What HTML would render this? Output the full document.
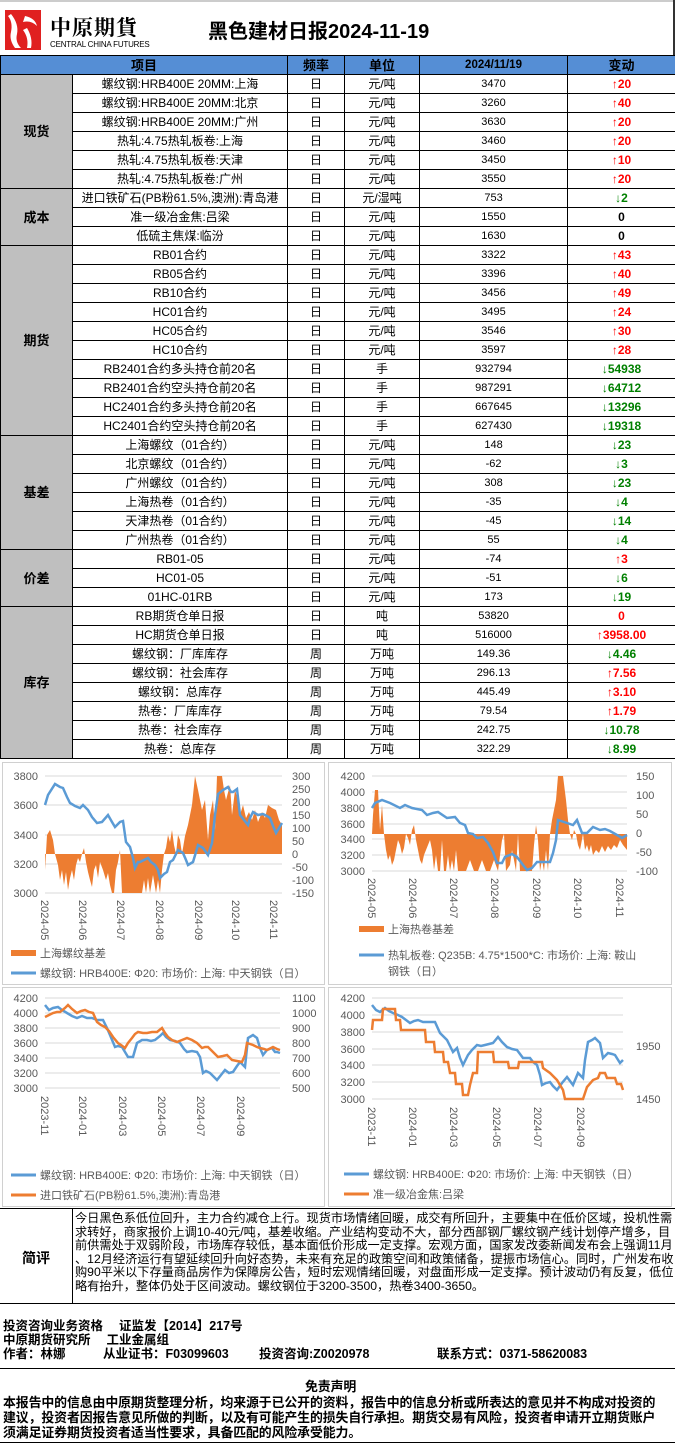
<!DOCTYPE html>
<html><head><meta charset="utf-8">
<style>
*{margin:0;padding:0;box-sizing:border-box}
body{width:675px;height:1445px;position:relative;background:#fff;font-family:"Liberation Sans","Noto Sans CJK SC",sans-serif;overflow:hidden}
.abs{position:absolute}
table{position:absolute;left:0;top:55px;width:675px;border-collapse:collapse;table-layout:fixed}
td{border:1px solid #000;height:19px;text-align:center;font-size:12px;white-space:nowrap;overflow:hidden;line-height:17px;padding:0}
th{border:1px solid #000;height:19px;background:#558ed5;font-size:13px;font-weight:bold;line-height:17px}
td.cat{background:#bfbfbf;font-weight:bold;font-size:13px}
td.v{font-size:11px}
.u{color:#ff0000;font-weight:bold;font-size:12px}
.d{color:#008000;font-weight:bold;font-size:12px}
.z{font-weight:bold;font-size:12px}
.panel{position:absolute;border:1px solid #d0d0d0;background:#fff}
.cm{position:absolute;left:75px;top:1212px;font-size:12.2px;line-height:13.6px;white-space:nowrap}
.info{position:absolute;font-size:12.5px;font-weight:bold;white-space:nowrap}
.disc{position:absolute;left:3px;font-size:12.9px;font-weight:bold;white-space:nowrap;letter-spacing:-0.1px}
</style></head><body>
<div class="abs" style="left:0;top:0;width:675px;height:2px;background:#ccc"></div>
<div class="abs" style="left:673px;top:0;width:2px;height:55px;background:#333"></div>
<svg class="abs" style="left:5px;top:10px" width="36" height="40" viewBox="0 0 36 40"><rect width="36" height="40" fill="#e02020"/><path d="M6 4 Q14 14 12 24 Q10 32 16 38 L10 38 Q4 30 6 22 Q8 12 3 6Z" fill="#fff"/><path d="M20 6 Q30 8 32 16 Q26 10 18 12Z" fill="#fff"/><path d="M18 20 Q24 28 22 38 L26 38 Q28 28 22 18Z" fill="#fff"/></svg>
<div class="abs" style="left:50px;top:12px;font-size:21px;font-weight:bold;letter-spacing:1px;font-family:'Noto Serif CJK SC',serif">中原期貨</div>
<div class="abs" style="left:50px;top:40px;font-size:8px;letter-spacing:-0.2px">CENTRAL CHINA FUTURES</div>
<div class="abs" style="left:208px;top:15px;font-size:20px;font-weight:bold">黑色建材日报2024-11-19</div>

<table>
<colgroup><col style="width:72px"><col style="width:215px"><col style="width:57px"><col style="width:75px"><col style="width:148px"><col style="width:108px"></colgroup>
<tr><th colspan="2">项目</th><th>频率</th><th>单位</th><th style="font-size:11.5px">2024/11/19</th><th>变动</th></tr>
<tr><td class="cat" rowspan="6">现货</td><td>螺纹钢:HRB400E 20MM:上海</td><td>日</td><td>元/吨</td><td class="v">3470</td><td class="u">↑20</td></tr>
<tr><td>螺纹钢:HRB400E 20MM:北京</td><td>日</td><td>元/吨</td><td class="v">3260</td><td class="u">↑40</td></tr>
<tr><td>螺纹钢:HRB400E 20MM:广州</td><td>日</td><td>元/吨</td><td class="v">3630</td><td class="u">↑20</td></tr>
<tr><td>热轧:4.75热轧板卷:上海</td><td>日</td><td>元/吨</td><td class="v">3460</td><td class="u">↑20</td></tr>
<tr><td>热轧:4.75热轧板卷:天津</td><td>日</td><td>元/吨</td><td class="v">3450</td><td class="u">↑10</td></tr>
<tr><td>热轧:4.75热轧板卷:广州</td><td>日</td><td>元/吨</td><td class="v">3550</td><td class="u">↑20</td></tr>
<tr><td class="cat" rowspan="3">成本</td><td>进口铁矿石(PB粉61.5%,澳洲):青岛港</td><td>日</td><td>元/湿吨</td><td class="v">753</td><td class="d">↓2</td></tr>
<tr><td>准一级冶金焦:吕梁</td><td>日</td><td>元/吨</td><td class="v">1550</td><td class="z">0</td></tr>
<tr><td>低硫主焦煤:临汾</td><td>日</td><td>元/吨</td><td class="v">1630</td><td class="z">0</td></tr>
<tr><td class="cat" rowspan="10">期货</td><td>RB01合约</td><td>日</td><td>元/吨</td><td class="v">3322</td><td class="u">↑43</td></tr>
<tr><td>RB05合约</td><td>日</td><td>元/吨</td><td class="v">3396</td><td class="u">↑40</td></tr>
<tr><td>RB10合约</td><td>日</td><td>元/吨</td><td class="v">3456</td><td class="u">↑49</td></tr>
<tr><td>HC01合约</td><td>日</td><td>元/吨</td><td class="v">3495</td><td class="u">↑24</td></tr>
<tr><td>HC05合约</td><td>日</td><td>元/吨</td><td class="v">3546</td><td class="u">↑30</td></tr>
<tr><td>HC10合约</td><td>日</td><td>元/吨</td><td class="v">3597</td><td class="u">↑28</td></tr>
<tr><td>RB2401合约多头持仓前20名</td><td>日</td><td>手</td><td class="v">932794</td><td class="d">↓54938</td></tr>
<tr><td>RB2401合约空头持仓前20名</td><td>日</td><td>手</td><td class="v">987291</td><td class="d">↓64712</td></tr>
<tr><td>HC2401合约多头持仓前20名</td><td>日</td><td>手</td><td class="v">667645</td><td class="d">↓13296</td></tr>
<tr><td>HC2401合约空头持仓前20名</td><td>日</td><td>手</td><td class="v">627430</td><td class="d">↓19318</td></tr>
<tr><td class="cat" rowspan="6">基差</td><td>上海螺纹（01合约）</td><td>日</td><td>元/吨</td><td class="v">148</td><td class="d">↓23</td></tr>
<tr><td>北京螺纹（01合约）</td><td>日</td><td>元/吨</td><td class="v">-62</td><td class="d">↓3</td></tr>
<tr><td>广州螺纹（01合约）</td><td>日</td><td>元/吨</td><td class="v">308</td><td class="d">↓23</td></tr>
<tr><td>上海热卷（01合约）</td><td>日</td><td>元/吨</td><td class="v">-35</td><td class="d">↓4</td></tr>
<tr><td>天津热卷（01合约）</td><td>日</td><td>元/吨</td><td class="v">-45</td><td class="d">↓14</td></tr>
<tr><td>广州热卷（01合约）</td><td>日</td><td>元/吨</td><td class="v">55</td><td class="d">↓4</td></tr>
<tr><td class="cat" rowspan="3">价差</td><td>RB01-05</td><td>日</td><td>元/吨</td><td class="v">-74</td><td class="u">↑3</td></tr>
<tr><td>HC01-05</td><td>日</td><td>元/吨</td><td class="v">-51</td><td class="d">↓6</td></tr>
<tr><td>01HC-01RB</td><td>日</td><td>元/吨</td><td class="v">173</td><td class="d">↓19</td></tr>
<tr><td class="cat" rowspan="8">库存</td><td>RB期货仓单日报</td><td>日</td><td>吨</td><td class="v">53820</td><td class="u">0</td></tr>
<tr><td>HC期货仓单日报</td><td>日</td><td>吨</td><td class="v">516000</td><td class="u">↑3958.00</td></tr>
<tr><td>螺纹钢：厂库库存</td><td>周</td><td>万吨</td><td class="v">149.36</td><td class="d">↓4.46</td></tr>
<tr><td>螺纹钢：社会库存</td><td>周</td><td>万吨</td><td class="v">296.13</td><td class="u">↑7.56</td></tr>
<tr><td>螺纹钢：总库存</td><td>周</td><td>万吨</td><td class="v">445.49</td><td class="u">↑3.10</td></tr>
<tr><td>热卷：厂库库存</td><td>周</td><td>万吨</td><td class="v">79.54</td><td class="u">↑1.79</td></tr>
<tr><td>热卷：社会库存</td><td>周</td><td>万吨</td><td class="v">242.75</td><td class="d">↓10.78</td></tr>
<tr><td>热卷：总库存</td><td>周</td><td>万吨</td><td class="v">322.29</td><td class="d">↓8.99</td></tr>
</table>

<div class="panel" style="left:2px;top:762px;width:323px;height:223px"></div>
<div class="panel" style="left:328px;top:762px;width:344px;height:223px"></div>
<div class="panel" style="left:2px;top:987px;width:323px;height:220px"></div>
<div class="panel" style="left:328px;top:987px;width:344px;height:220px"></div>

<svg class="abs" style="left:0;top:0" width="675" height="1445" font-family="Liberation Sans, Noto Sans CJK SC, sans-serif" font-size="11" fill="#595959">
<g stroke="#d9d9d9" stroke-width="1"><line x1="45" x2="282" y1="776" y2="776"/><line x1="45" x2="282" y1="805" y2="805"/><line x1="45" x2="282" y1="835" y2="835"/><line x1="45" x2="282" y1="864" y2="864"/><line x1="45" x2="282" y1="893" y2="893"/></g>
<polygon fill="#ed7d31" points="45,854 45,870 47,835 50,830 53,840 55,854 58,865 60,880 62,870 64,885 66,872 68,890 70,878 72,870 74,880 76,865 78,858 80,862 82,854 84,848 86,862 88,872 90,880 92,887 94,870 96,865 98,878 100,862 103,870 106,880 108,873 110,885 112,893 114,893 116,870 118,862 120,850 122,893 142,893 144,880 146,893 148,878 150,893 153,875 156,893 158,880 160,893 162,870 164,854 166,848 168,835 170,842 172,830 174,845 176,854 178,835 180,840 182,854 185,836 188,825 192,805 195,776 198,790 202,810 205,800 208,840 210,815 213,800 215,830 217,776 222,776 224,790 226,800 230,785 232,815 235,790 238,800 240,815 243,805 246,818 249,812 252,820 255,810 258,822 262,812 265,818 268,805 272,808 276,810 279,820 282,825 282,854"/>
<polyline fill="none" stroke="#5b9bd5" stroke-width="2.5" points="45,805 48,795 55,784 60,787 63,788 67,797 70,803 75,806 80,808 83,805 88,810 92,817 97,823 102,822 108,815 112,822 115,827 120,822 123,821 126,842 130,847 133,858 135,868 138,862 140,862 144,860 148,858 151,862 155,865 158,870 160,878 164,874 167,872 170,862 173,860 178,850 183,853 186,860 188,865 193,862 196,852 198,845 203,848 208,855 212,843 215,815 218,794 223,790 228,787 231,792 233,792 237,789 240,815 244,820 248,825 250,818 253,812 258,815 263,814 267,816 270,818 273,826 276,833 279,828 282,823"/>
<g text-anchor="end"><text x="38" y="780">3800</text><text x="38" y="809">3600</text><text x="38" y="839">3400</text><text x="38" y="868">3200</text><text x="38" y="897">3000</text></g>
<g text-anchor="start"><text x="292" y="780">300</text><text x="292" y="793">250</text><text x="292" y="806">200</text><text x="292" y="819">150</text><text x="292" y="832">100</text><text x="292" y="845">50</text><text x="292" y="858">0</text><text x="292" y="871">-50</text><text x="292" y="884">-100</text><text x="292" y="897">-150</text></g>
<g><text transform="translate(41,900) rotate(90)">2024-05</text><text transform="translate(79,900) rotate(90)">2024-06</text><text transform="translate(117,900) rotate(90)">2024-07</text><text transform="translate(156,900) rotate(90)">2024-08</text><text transform="translate(195,900) rotate(90)">2024-09</text><text transform="translate(232,900) rotate(90)">2024-10</text><text transform="translate(270,900) rotate(90)">2024-11</text></g>
<rect x="11" y="950" width="25" height="6" fill="#ed7d31"/><text x="40" y="957">上海螺纹基差</text>
<line x1="11" x2="36" y1="973" y2="973" stroke="#5b9bd5" stroke-width="3"/><text x="40" y="977">螺纹钢:  HRB400E:  Φ20:  市场价:  上海:  中天钢铁（日）</text>

<g stroke="#d9d9d9"><line x1="372" x2="627" y1="776" y2="776"/><line x1="372" x2="627" y1="792" y2="792"/><line x1="372" x2="627" y1="808" y2="808"/><line x1="372" x2="627" y1="824" y2="824"/><line x1="372" x2="627" y1="839" y2="839"/><line x1="372" x2="627" y1="855" y2="855"/><line x1="372" x2="627" y1="871" y2="871"/></g>
<polygon fill="#ed7d31" points="372,834 373,815 375,790 378,790 380,830 382,805 384,834 386,850 388,860 390,855 392,865 394,860 396,850 398,840 400,845 402,854 404,848 406,834 408,838 410,845 412,830 414,825 416,840 418,850 420,860 422,864 424,855 426,850 428,845 430,840 432,850 434,870 436,855 438,871 440,871 442,840 444,871 446,871 448,855 450,871 452,860 454,871 456,850 458,871 466,871 470,860 474,871 478,871 482,860 486,871 490,871 494,860 498,871 502,840 504,834 506,871 510,865 512,850 514,860 516,871 518,834 520,871 532,871 534,845 536,825 538,840 540,871 542,860 544,871 546,850 548,871 550,834 552,820 554,810 556,800 558,776 563,776 566,800 568,820 570,834 572,840 574,830 576,834 578,845 580,850 583,834 585,850 587,845 589,852 591,845 593,855 596,850 599,853 602,846 605,852 608,846 611,850 614,845 617,848 620,840 623,845 627,850 627,834"/>
<polyline fill="none" stroke="#5b9bd5" stroke-width="2.5" points="372,808 375,803 382,800 390,803 400,808 405,805 412,808 422,810 427,815 433,813 438,812 447,818 455,817 460,823 465,825 468,833 473,834 477,838 483,837 488,843 493,852 497,863 502,863 505,857 512,854 517,857 523,865 527,870 532,868 537,862 543,862 550,862 553,853 556,840 558,820 567,823 573,825 577,820 582,833 587,833 593,827 600,830 605,829 610,831 617,835 622,838 627,835"/>
<g text-anchor="end"><text x="365" y="780">4200</text><text x="365" y="796">4000</text><text x="365" y="812">3800</text><text x="365" y="828">3600</text><text x="365" y="843">3400</text><text x="365" y="859">3200</text><text x="365" y="875">3000</text></g>
<g><text x="636" y="780">150</text><text x="636" y="799">100</text><text x="636" y="818">50</text><text x="636" y="837">0</text><text x="636" y="856">-50</text><text x="636" y="875">-100</text></g>
<g><text transform="translate(368,878) rotate(90)">2024-05</text><text transform="translate(409,878) rotate(90)">2024-06</text><text transform="translate(450,878) rotate(90)">2024-07</text><text transform="translate(491,878) rotate(90)">2024-08</text><text transform="translate(533,878) rotate(90)">2024-09</text><text transform="translate(574,878) rotate(90)">2024-10</text><text transform="translate(616,878) rotate(90)">2024-11</text></g>
<rect x="359" y="926" width="25" height="6" fill="#ed7d31"/><text x="388" y="933">上海热卷基差</text>
<line x1="359" x2="384" y1="955" y2="955" stroke="#5b9bd5" stroke-width="3"/><text x="388" y="959">热轧板卷:  Q235B:  4.75*1500*C:  市场价:  上海:  鞍山</text><text x="388" y="975">钢铁（日）</text>

<g stroke="#d9d9d9"><line x1="45" x2="280" y1="998" y2="998"/><line x1="45" x2="280" y1="1013" y2="1013"/><line x1="45" x2="280" y1="1028" y2="1028"/><line x1="45" x2="280" y1="1043" y2="1043"/><line x1="45" x2="280" y1="1058" y2="1058"/><line x1="45" x2="280" y1="1073" y2="1073"/><line x1="45" x2="280" y1="1088" y2="1088"/></g>
<polyline fill="none" stroke="#5b9bd5" stroke-width="2.5" points="45,1005 49,1010 53,1008 58,1007 62,1010 67,1013 72,1016 77,1018 82,1016 87,1018 92,1018 97,1020 103,1020 107,1028 110,1035 115,1047 118,1046 122,1047 125,1052 128,1057 133,1057 137,1043 142,1040 147,1040 151,1041 155,1040 160,1036 163,1033 166,1037 170,1040 175,1041 180,1043 184,1049 187,1052 192,1051 197,1052 200,1057 203,1073 206,1071 210,1073 214,1077 217,1080 221,1075 225,1070 229,1073 233,1072 237,1066 240,1062 243,1065 245,1067 248,1038 253,1035 257,1038 260,1048 263,1055 267,1050 272,1048 275,1052 277,1052 280,1053"/>
<polyline fill="none" stroke="#ed7d31" stroke-width="2.5" points="45,1017 49,1015 53,1013 57,1012 60,1012 65,1008 68,1005 72,1009 77,1013 81,1011 85,1010 89,1012 93,1013 97,1022 101,1025 105,1027 109,1031 113,1037 118,1043 121,1045 125,1048 128,1043 132,1038 135,1034 138,1032 143,1033 147,1033 152,1032 157,1032 162,1028 165,1033 168,1037 172,1040 177,1042 182,1040 187,1038 192,1040 197,1043 202,1048 205,1047 208,1047 213,1052 218,1057 223,1056 227,1055 232,1060 237,1061 242,1062 245,1055 247,1043 253,1045 257,1047 260,1048 264,1049 267,1050 273,1047 277,1049 280,1050"/>
<g text-anchor="end"><text x="38" y="1002">4200</text><text x="38" y="1017">4000</text><text x="38" y="1032">3800</text><text x="38" y="1047">3600</text><text x="38" y="1062">3400</text><text x="38" y="1077">3200</text><text x="38" y="1092">3000</text></g>
<g><text x="292" y="1002">1100</text><text x="292" y="1017">1000</text><text x="292" y="1032">900</text><text x="292" y="1047">800</text><text x="292" y="1062">700</text><text x="292" y="1077">600</text><text x="292" y="1092">500</text></g>
<g><text transform="translate(41,1096) rotate(90)">2023-11</text><text transform="translate(79,1096) rotate(90)">2024-01</text><text transform="translate(119,1096) rotate(90)">2024-03</text><text transform="translate(158,1096) rotate(90)">2024-05</text><text transform="translate(197,1096) rotate(90)">2024-07</text><text transform="translate(237,1096) rotate(90)">2024-09</text></g>
<line x1="11" x2="36" y1="1175" y2="1175" stroke="#5b9bd5" stroke-width="3"/><text x="40" y="1179">螺纹钢:  HRB400E:  Φ20:  市场价:  上海:  中天钢铁（日）</text>
<line x1="11" x2="36" y1="1195" y2="1195" stroke="#ed7d31" stroke-width="3"/><text x="40" y="1199">进口铁矿石(PB粉61.5%,澳洲):青岛港</text>

<g stroke="#d9d9d9"><line x1="372" x2="623" y1="998" y2="998"/><line x1="372" x2="623" y1="1015" y2="1015"/><line x1="372" x2="623" y1="1032" y2="1032"/><line x1="372" x2="623" y1="1049" y2="1049"/><line x1="372" x2="623" y1="1065" y2="1065"/><line x1="372" x2="623" y1="1082" y2="1082"/><line x1="372" x2="623" y1="1099" y2="1099"/></g>
<polyline fill="none" stroke="#5b9bd5" stroke-width="2.5" points="372,1005 376,1010 380,1012 385,1008 389,1011 393,1013 398,1015 402,1017 406,1020 410,1023 414,1021 418,1020 423,1022 430,1022 435,1022 440,1033 444,1037 447,1040 450,1046 453,1052 457,1048 460,1058 463,1065 468,1055 472,1050 477,1045 481,1046 485,1045 489,1044 493,1043 498,1037 502,1042 507,1047 512,1049 517,1050 520,1054 523,1058 530,1058 533,1062 537,1065 540,1075 542,1085 546,1083 550,1082 553,1086 557,1090 562,1083 567,1077 570,1081 573,1085 578,1073 583,1078 585,1060 588,1042 592,1040 595,1038 600,1043 603,1058 608,1053 612,1054 615,1055 620,1063 623,1060"/>
<polyline fill="none" stroke="#ed7d31" stroke-width="2.5" points="372,1030 373,1020 382,1020 383,1009 395,1009 396,1020 400,1020 401,1030 425,1030 426,1042 434,1042 435,1052 443,1052 444,1062 448,1062 450,1073 455,1073 456,1084 462,1084 463,1095 468,1095 470,1085 473,1073 477,1073 478,1052 493,1052 494,1062 508,1062 509,1068 518,1068 519,1062 542,1062 543,1068 550,1073 557,1080 563,1090 565,1099 583,1099 587,1087 593,1080 598,1078 600,1073 605,1073 607,1078 615,1078 617,1084 621,1084 623,1090"/>
<g text-anchor="end"><text x="365" y="1002">4200</text><text x="365" y="1019">4000</text><text x="365" y="1036">3800</text><text x="365" y="1053">3600</text><text x="365" y="1069">3400</text><text x="365" y="1086">3200</text><text x="365" y="1103">3000</text></g>
<g><text x="636" y="1050">1950</text><text x="636" y="1103">1450</text></g>
<g><text transform="translate(368,1107) rotate(90)">2023-11</text><text transform="translate(409,1107) rotate(90)">2024-01</text><text transform="translate(450,1107) rotate(90)">2024-03</text><text transform="translate(493,1107) rotate(90)">2024-05</text><text transform="translate(534,1107) rotate(90)">2024-07</text><text transform="translate(577,1107) rotate(90)">2024-09</text></g>
<line x1="344" x2="369" y1="1174" y2="1174" stroke="#5b9bd5" stroke-width="3"/><text x="373" y="1178">螺纹钢:  HRB400E:  Φ20:  市场价:  上海:  中天钢铁（日）</text>
<line x1="344" x2="369" y1="1194" y2="1194" stroke="#ed7d31" stroke-width="3"/><text x="373" y="1198">准一级冶金焦:吕梁</text>
</svg>

<div class="abs" style="left:0;top:1208px;width:675px;height:96px;border-top:1px solid #000;border-bottom:1px solid #000"></div>
<div class="abs" style="left:72px;top:1208px;width:1px;height:96px;background:#000"></div>
<div class="abs" style="left:22px;top:1248px;font-size:14px;font-weight:bold">简评</div>
<div class="cm">今日黑色系低位回升，主力合约减仓上行。现货市场情绪回暖，成交有所回升，主要集中在低价区域，投机性需<br>求转好，商家报价上调10-40元/吨，基差收缩。产业结构变动不大，部分西部钢厂螺纹钢产线计划停产增多，目<br>前供需处于双弱阶段，市场库存较低，基本面低价形成一定支撑。宏观方面，国家发改委新闻发布会上强调11月<br>、12月经济运行有望延续回升向好态势，未来有充足的政策空间和政策储备，提振市场信心。同时，广州发布收<br>购90平米以下存量商品房作为保障房公告，短时宏观情绪回暖，对盘面形成一定支撑。预计波动仍有反复，低位<br>略有抬升，整体仍处于区间波动。螺纹钢位于3200-3500，热卷3400-3650。</div>

<div class="info" style="left:3px;top:1315px">投资咨询业务资格　 证监发【2014】217号</div>
<div class="info" style="left:3px;top:1329px">中原期货研究所　 工业金属组</div>
<div class="info" style="left:3px;top:1343px">作者：林娜</div>
<div class="info" style="left:103px;top:1343px">从业证书：F03099603</div>
<div class="info" style="left:259px;top:1343px">投资咨询:Z0020978</div>
<div class="info" style="left:437px;top:1343px">联系方式：0371-58620083</div>
<div class="abs" style="left:0;top:1368px;width:675px;height:1px;background:#000"></div>
<div class="disc" style="left:305px;top:1376px">免责声明</div>
<div class="disc" style="top:1392px">本报告中的信息由中原期货整理分析，均来源于已公开的资料，报告中的信息分析或所表达的意见并不构成对投资的</div>
<div class="disc" style="top:1407px">建议，投资者因报告意见所做的判断，以及有可能产生的损失自行承担。期货交易有风险，投资者申请开立期货账户</div>
<div class="disc" style="top:1422px">须满足证券期货投资者适当性要求，具备匹配的风险承受能力。</div>
<div class="abs" style="left:0;top:1442px;width:675px;height:1px;background:#000"></div>
</body></html>
